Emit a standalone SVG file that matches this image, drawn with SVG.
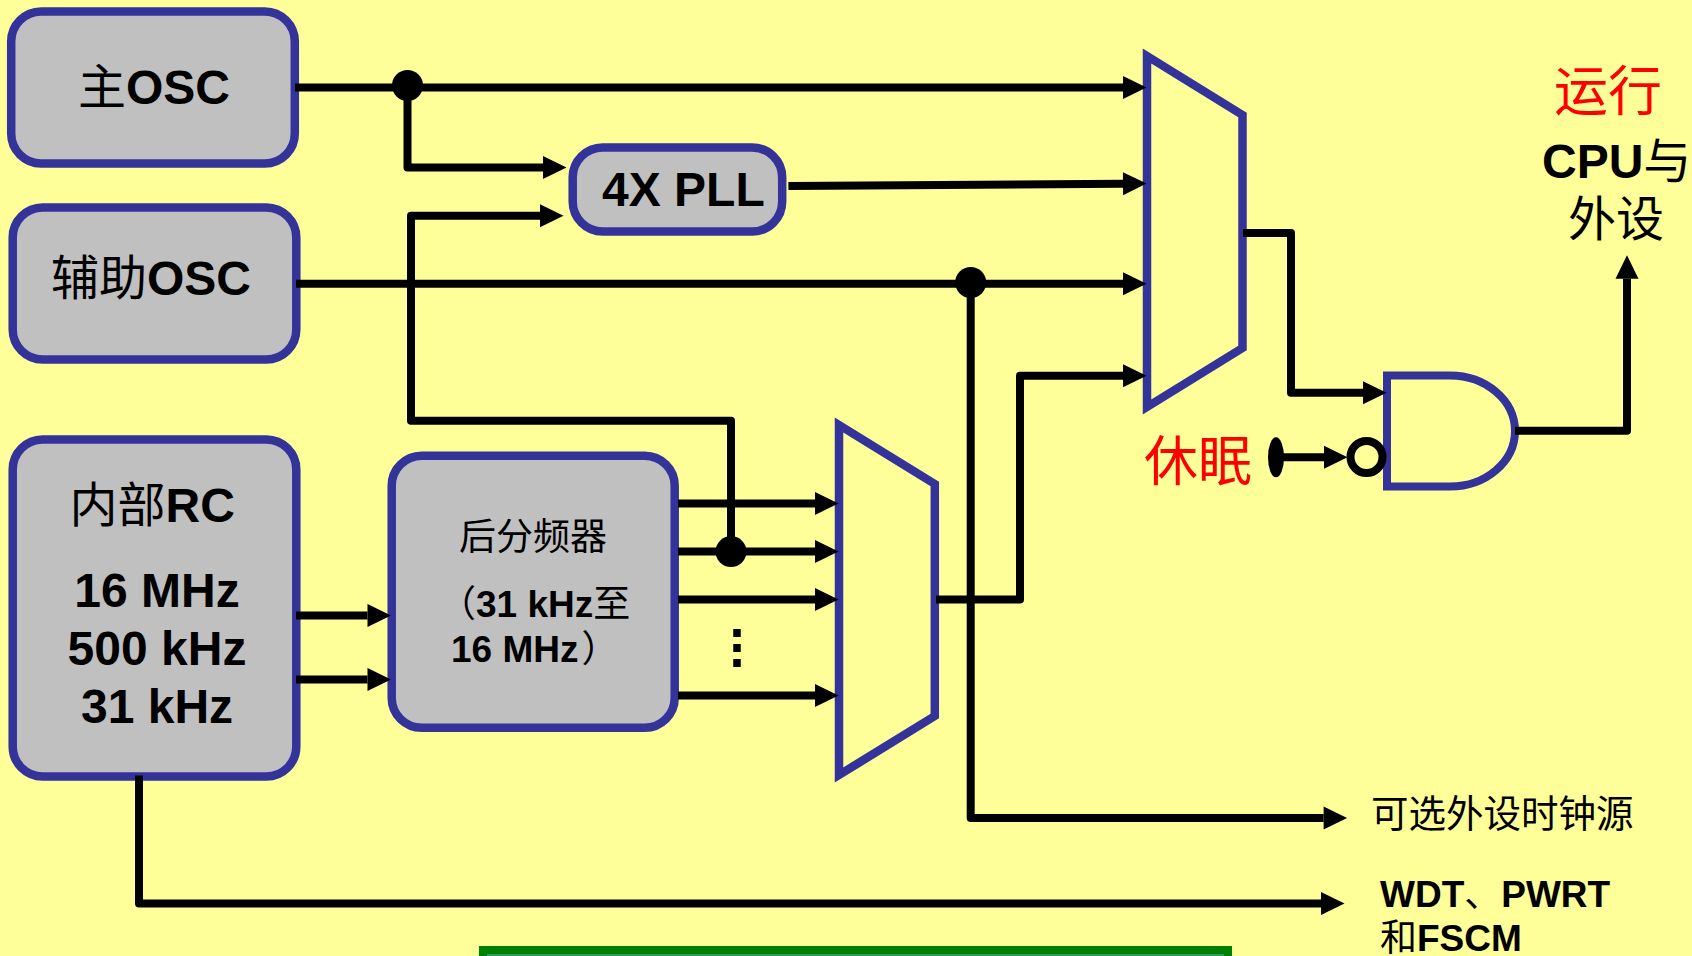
<svg xmlns="http://www.w3.org/2000/svg" width="1692" height="956" viewBox="0 0 1692 956">
<style>
.box{fill:#C0C0C0;stroke:#333399;stroke-width:8.5}
.mux{fill:#FFFF99;stroke:#333399;stroke-width:8.5;stroke-miterlimit:10}
.w{fill:none;stroke:#000;stroke-width:8;stroke-linejoin:round}
.a{marker-end:url(#ah)}
.dot{fill:#000}
text{font-family:"Liberation Sans","Noto Sans CJK SC",sans-serif;fill:#000;font-weight:700}
.c{font-family:"Noto Sans CJK SC",sans-serif;font-weight:400}
.s48{font-size:48px}
.s37{font-size:37px}
.red{fill:#FF0000;font-size:54px}
</style>
<defs>
<marker id="ah" markerUnits="userSpaceOnUse" markerWidth="24" markerHeight="24" refX="0" refY="11.5" orient="auto" overflow="visible">
<path d="M0 0L23.5 11.5L0 23Z" fill="#000"/>
</marker>
</defs>
<rect width="1692" height="956" fill="#FFFF99"/>
<g id="mux1"><path class="mux" d="M1147 56L1242.5 115V348L1147 407Z"/></g>
<g id="mux2"><path class="mux" d="M839 425L934.8 484V716L839 775Z"/></g>
<g id="and-gate"><path d="M1387 375.5H1450A65 55.5 0 0 1 1450 486.5H1387Z" fill="#FFFF99" stroke="#333399" stroke-width="8"/></g>
<g id="main-osc"><rect class="box" x="11.2" y="11.5" width="283.6" height="152" rx="30"/>
<text class="s48" x="78" y="104"><tspan class="c">主</tspan>OSC</text></g>
<g id="aux-osc"><rect class="box" x="12.7" y="207.5" width="283.6" height="152" rx="30"/>
<text class="s48" x="51" y="295"><tspan class="c">辅助</tspan>OSC</text></g>
<g id="pll"><rect class="box" x="572.7" y="147.5" width="209.5" height="84" rx="30"/>
<text class="s48" x="602" y="205.7">4X PLL</text></g>
<g id="internal-rc"><rect class="box" x="12.7" y="439.5" width="283.6" height="337" rx="30"/>
<text class="s48" x="69.5" y="522"><tspan class="c">内部</tspan>RC</text>
<text class="s48" x="157" y="607" text-anchor="middle">16 MHz</text>
<text class="s48" x="157" y="665" text-anchor="middle">500 kHz</text>
<text class="s48" x="157" y="722.6" text-anchor="middle">31 kHz</text></g>
<g id="postscaler"><rect class="box" x="391.7" y="455.8" width="283" height="272" rx="30"/>
<text class="s37 c" x="459" y="550"><tspan>后分频器</tspan></text>
<text class="s37" x="439" y="617"><tspan class="c">（</tspan>31 kHz<tspan class="c">至</tspan></text>
<text class="s37" x="451" y="662">16 MHz<tspan class="c" dx="3">）</tspan></text></g>
<g id="labels">
<text class="red c" x="1554" y="111">运行</text>
<text class="s48" x="1542" y="178">CPU<tspan class="c">与</tspan></text>
<text class="s48 c" x="1568" y="236">外设</text>
<text class="red c" x="1144" y="481">休眠</text>
<text class="s37 c" x="1371" y="827" style="font-size:37.5px">可选外设时钟源</text>
<text class="s37" x="1380" y="907">WDT<tspan class="c">、</tspan>PWRT</text>
<text class="s37" x="1380" y="951"><tspan class="c">和</tspan>FSCM</text>
</g>
<g id="green-box"><rect x="483" y="950" width="745" height="30" fill="#339966" stroke="#008000" stroke-width="8"/></g>
<g id="connectors">
<path class="w a" d="M295 87.5H1123"/>
<path class="w a" d="M407.5 87.5V167.5H543"/>
<path class="w a" d="M731 551.6V420.7H411V215.7H540"/>
<path class="w a" d="M788.4 186L1123 183.7"/>
<path class="w a" d="M296 283.7H1123"/>
<path class="w a" d="M970.7 283.7V818H1323.6"/>
<path class="w a" d="M936 599.5H1020V375.7H1123"/>
<path class="w a" d="M1243 233H1291V392.7H1363"/>
<path class="w a" d="M1515 430.7H1627V278.7"/>
<path class="w a" d="M1283 457.3H1324"/>
<path class="w a" d="M296 615.6H367.5"/>
<path class="w a" d="M296 679.5H367.5"/>
<path class="w a" d="M678 503.4H815"/>
<path class="w a" d="M678 551.6H815"/>
<path class="w a" d="M678 599.5H815"/>
<path class="w a" d="M678 695.6H815"/>
<path class="w a" d="M139 775.5V903.5H1321"/>
<path d="M737 629V667" fill="none" stroke="#000" stroke-width="7.5" stroke-dasharray="8 7"/>
<circle class="dot" cx="407.5" cy="85.5" r="15.5"/>
<circle class="dot" cx="970.7" cy="282.5" r="15.5"/>
<circle class="dot" cx="731" cy="551.6" r="15.5"/>
<ellipse class="dot" cx="1276" cy="457.3" rx="8" ry="20"/>
<circle cx="1366.5" cy="457" r="16" fill="#FFFF99" stroke="#000" stroke-width="8"/>
</g>
</svg>
